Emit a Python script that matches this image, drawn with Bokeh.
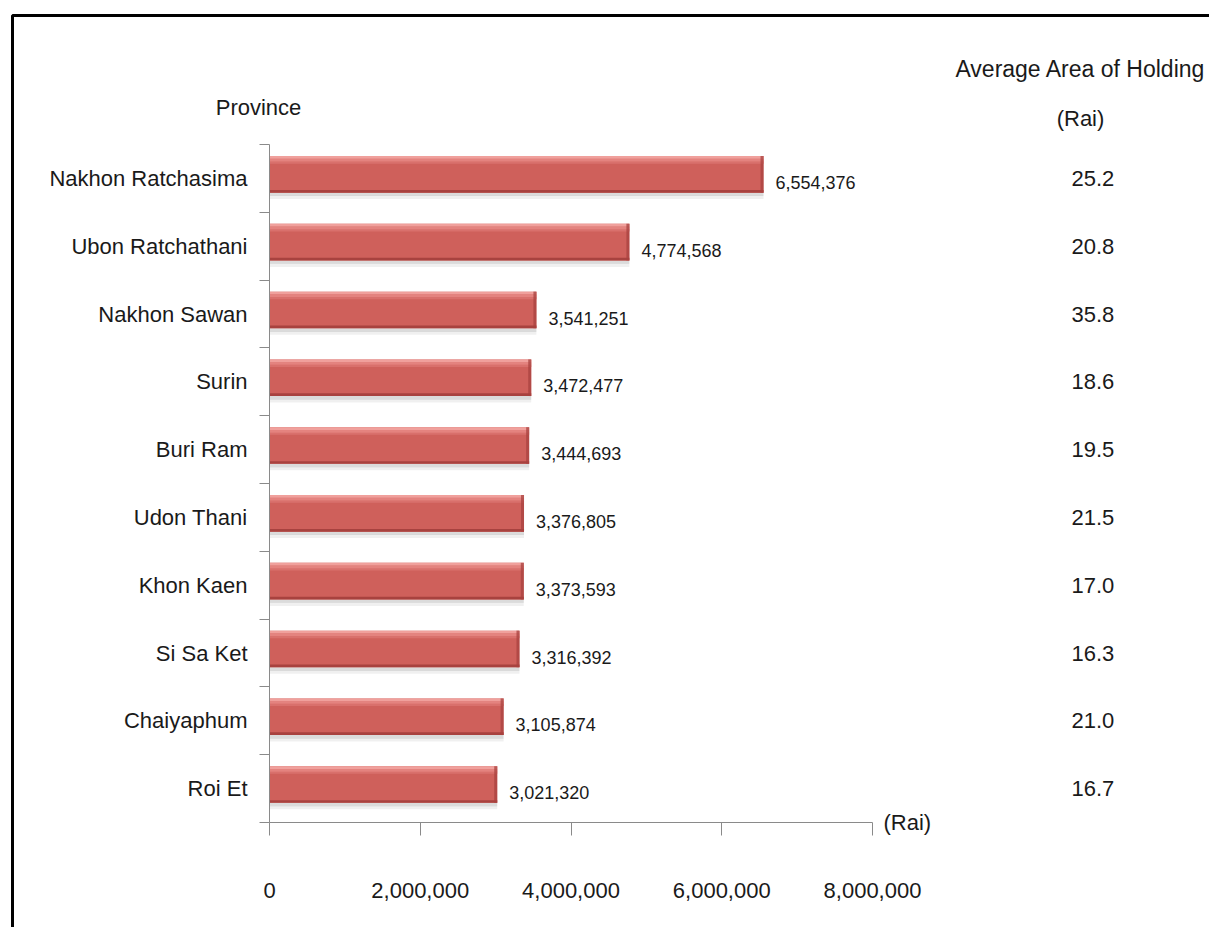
from bokeh.plotting import figure
from bokeh.models import (ColumnDataSource, FixedTicker, LabelSet, Label, BoxAnnotation,
                          NumeralTickFormatter, Range1d, LinearAxis)
from bokeh.embed import file_html
from bokeh.resources import INLINE
from bokeh.core.properties import value

# ---------------- data ----------------
provinces = ["Nakhon Ratchasima", "Ubon Ratchathani", "Nakhon Sawan", "Surin", "Buri Ram",
             "Udon Thani", "Khon Kaen", "Si Sa Ket", "Chaiyaphum", "Roi Et"]
area_rai = [6554376, 4774568, 3541251, 3472477, 3444693, 3376805, 3373593, 3316392, 3105874, 3021320]
avg_holding = [25.2, 20.8, 35.8, 18.6, 19.5, 21.5, 17.0, 16.3, 21.0, 16.7]
x_ticks = [0, 2000000, 4000000, 6000000, 8000000]
x_max = 8000000

FONT = "Liberation Sans"
TXT = "#1a1a1a"
AXC = "#8a8a8a"

n = len(provinces)
pos = [n - 0.5 - i for i in range(n)]

# ---------------- layout (canvas px -> data) ----------------
W, H = 1209, 927
ax_left_px, ax_right_px = 269, 872   # x = 0 and x = x_max
ax_bottom_px, ax_top_px = 822, 144   # y = 0 and y = n
xpp = x_max / (ax_right_px - ax_left_px)
ypp = n / (ax_bottom_px - ax_top_px)
x_range = Range1d(-ax_left_px * xpp, (W - ax_left_px) * xpp)
y_range = Range1d(-(H - ax_bottom_px) * ypp, ax_bottom_px * ypp)

edge = 3 * xpp
src = ColumnDataSource(dict(
    pos=pos,
    area=area_rai,
    edge_left=[max(v - edge, 0) for v in area_rai],
    label=[f"{v:,}" for v in area_rai],
    bar=[p + 0.06 for p in pos],
    hl1=[p + 0.31 for p in pos],
    hl2=[p + 0.27 for p in pos],
    hl3=[p + 0.235 for p in pos],
    dark=[p - 0.19 for p in pos],
    sh1=[p - 0.235 for p in pos],
    sh2=[p - 0.28 for p in pos],
))

p = figure(width=W, height=H, x_range=x_range, y_range=y_range,
           output_backend="svg", toolbar_location=None,
           min_border_left=0, min_border_right=0, min_border_top=0, min_border_bottom=0)
p.outline_line_color = None
p.grid.grid_line_color = None
p.background_fill_color = "white"

# shadow
p.hbar(y="sh2", left=0, right="area", height=0.05, source=src, fill_color="#000000", fill_alpha=0.06, line_color=None)
p.hbar(y="sh1", left=0, right="area", height=0.05, source=src, fill_color="#000000", fill_alpha=0.14, line_color=None)
# main bar
p.hbar(y="bar", left=0, right="area", height=0.54, source=src, fill_color="#CF605B", line_color=None)
# gloss
p.hbar(y="hl3", left=0, right="area", height=0.035, source=src, fill_color="#D9706C", line_color=None)
p.hbar(y="hl2", left=0, right="area", height=0.04, source=src, fill_color="#E4837F", line_color=None)
p.hbar(y="hl1", left=0, right="area", height=0.04, source=src, fill_color="#F0A09C", line_color=None)
# dark lower / right edge
p.hbar(y="dark", left=0, right="area", height=0.04, source=src, fill_color="#A8423F", line_color=None)
p.hbar(y="bar", left="edge_left", right="area", height=0.54, source=src, fill_color="#A8423F",
       fill_alpha=0.75, line_color=None)

labels = LabelSet(x="area", y="pos", text="label", source=src, x_offset=12, y_offset=-4,
                  text_font=value(FONT), text_font_size="18px", text_color=TXT,
                  text_baseline="middle", text_align="left")
p.add_layout(labels)

# y axis: names at centres, tick marks at boundaries
ya = p.yaxis[0]
ya.fixed_location = 0
ya.bounds = (0, n)
ya.ticker = FixedTicker(ticks=pos, minor_ticks=list(range(n + 1)))
ya.major_label_overrides = {float(pp): name for pp, name in zip(pos, provinces)}
ya.major_tick_out = 0
ya.major_tick_in = 0
ya.minor_tick_out = 10
ya.minor_tick_in = 0
ya.minor_tick_line_color = AXC
ya.axis_line_color = AXC
ya.major_label_standoff = 12
ya.major_label_text_font = FONT
ya.major_label_text_font_size = "22px"
ya.major_label_text_color = TXT

xa = p.xaxis[0]
xa.fixed_location = 0
xa.bounds = (0, x_max)
xa.ticker = FixedTicker(ticks=x_ticks)
xa.formatter = NumeralTickFormatter(format="0,0")
xa.major_tick_out = 13
xa.major_tick_in = 0
xa.minor_tick_line_color = None
xa.axis_line_color = AXC
xa.major_tick_line_color = AXC
xa.major_label_standoff = 47
xa.major_label_text_font = FONT
xa.major_label_text_font_size = "22px"
xa.major_label_text_color = TXT

# right axis: average area of holding
ra = LinearAxis(ticker=FixedTicker(ticks=pos), fixed_location=x_max)
ra.major_label_overrides = {float(pp): f"{v:.1f}" for pp, v in zip(pos, avg_holding)}
ra.axis_line_color = None
ra.major_tick_line_color = None
ra.minor_tick_line_color = None
ra.major_label_standoff = 193
ra.major_label_text_font = FONT
ra.major_label_text_font_size = "22px"
ra.major_label_text_color = TXT
p.add_layout(ra, "right")

def lab(size="22px", **kw):
    return Label(text_font=FONT, text_font_size=size, text_color=TXT, text_baseline="middle", **kw)

p.add_layout(lab(x=0, y=n, text="Province", x_offset=-11, y_offset=37, text_align="center"))
p.add_layout(lab(x=x_max, y=n, text="Average Area of Holding", x_offset=208, y_offset=76,
                 text_align="center", size="23px"))
p.add_layout(lab(x=x_max, y=n, text="(Rai)", x_offset=208, y_offset=26, text_align="center"))
p.add_layout(lab(x=x_max, y=0, text="(Rai)", x_offset=11, y_offset=0, text_align="left"))

p.add_layout(BoxAnnotation(left=12, right=5000, top=15, bottom=5000,
                           left_units="canvas", right_units="canvas", top_units="canvas", bottom_units="canvas",
                           fill_alpha=0, line_color="black", line_alpha=1.0, line_width=3))

open("out.html", "w").write(file_html(p, INLINE))
